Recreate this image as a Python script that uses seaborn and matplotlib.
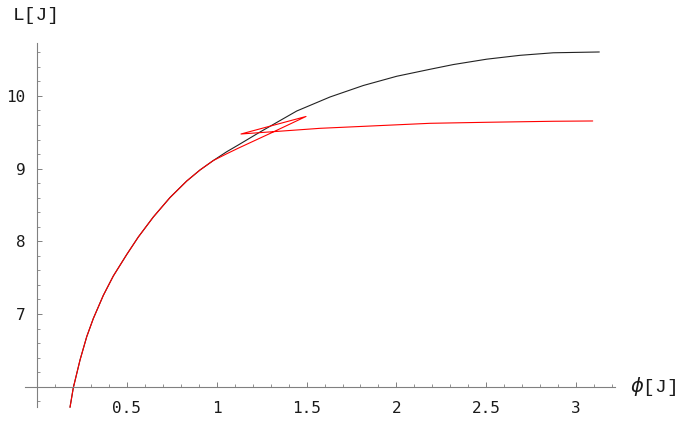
import numpy as np
import pandas as pd
import matplotlib
matplotlib.use("Agg")
import matplotlib.pyplot as plt
from matplotlib.ticker import FixedLocator, FixedFormatter
import seaborn as sns

# ---- data ----
phi_black = [0.1836, 0.2020, 0.2393, 0.2766, 0.3133, 0.3689, 0.4246, 0.4992, 0.5637,
             0.6472, 0.7401, 0.8331, 0.9071, 0.9811, 1.0557, 1.1202, 1.2410, 1.4452,
             1.6305, 1.8158, 2.0017, 2.1870, 2.3166, 2.5025, 2.6878, 2.8731, 3.1291]
L_black = [5.717, 5.986, 6.367, 6.688, 6.938, 7.256, 7.523, 7.818, 8.059,
           8.334, 8.602, 8.829, 8.981, 9.111, 9.232, 9.325, 9.503, 9.792,
           9.985, 10.143, 10.270, 10.366, 10.431, 10.505, 10.558, 10.593, 10.604]

phi_red = [0.1836, 0.2020, 0.2393, 0.2766, 0.3133, 0.3689, 0.4246, 0.4992, 0.5637,
           0.6472, 0.7401, 0.8331, 0.9071, 0.9811, 1.0557, 1.1202, 1.2966, 1.4970,
           1.1352, 1.5748, 2.1870, 2.5025, 2.8731, 3.0924]
L_red = [5.717, 5.986, 6.367, 6.688, 6.938, 7.256, 7.523, 7.818, 8.059,
         8.334, 8.602, 8.829, 8.981, 9.111, 9.204, 9.281, 9.483, 9.717,
         9.476, 9.554, 9.623, 9.637, 9.651, 9.655]

x_major = [0.5, 1, 1.5, 2, 2.5, 3]
x_major_labels = ["0.5", "1", "1.5", "2", "2.5", "3"]
y_major = [7, 8, 9, 10]
y_major_labels = ["7", "8", "9", "10"]

x_label = r"$\phi$[J]"
y_label = "L[J]"

# ---- plotting ----
sns.set_style("ticks")
plt.rcParams["font.family"] = ["DejaVu Sans Mono", "DejaVu Sans"]
plt.rcParams["mathtext.fontset"] = "dejavusans"

fig = plt.figure(figsize=(6.85, 4.24), dpi=100)
ax = fig.add_axes([0, 0, 1, 1])

df_black = pd.DataFrame({"phi": phi_black, "L": L_black})
df_red = pd.DataFrame({"phi": phi_red, "L": L_red})

sns.lineplot(data=df_black, x="phi", y="L", sort=False, estimator=None,
             color="#222222", linewidth=0.8, ax=ax)
sns.lineplot(data=df_red, x="phi", y="L", sort=False, estimator=None,
             color="#ff0000", linewidth=0.8, ax=ax)

ax.set_xlim(-0.206, 3.606)
ax.set_ylim(5.487, 11.319)
ax.set_xlabel("")
ax.set_ylabel("")

axis_col = "#808080"
for s in ["top", "right"]:
    ax.spines[s].set_visible(False)
ax.spines["left"].set_position(("data", 0))
ax.spines["bottom"].set_position(("data", 6))
ax.spines["left"].set_bounds(5.72, 10.73)
ax.spines["bottom"].set_bounds(-0.067, 3.216)
for s in ["left", "bottom"]:
    ax.spines[s].set_color(axis_col)
    ax.spines[s].set_linewidth(0.8)

ax.xaxis.set_major_locator(FixedLocator(x_major))
ax.xaxis.set_major_formatter(FixedFormatter(x_major_labels))
ax.yaxis.set_major_locator(FixedLocator(y_major))
ax.yaxis.set_major_formatter(FixedFormatter(y_major_labels))
x_minor = [round(0.1 * i, 1) for i in range(1, 33) if i % 5 != 0]
y_minor = [round(5.8 + 0.2 * i, 1) for i in range(0, 25)]
y_minor = [v for v in y_minor if abs(v - round(v)) > 1e-6]
ax.xaxis.set_minor_locator(FixedLocator(x_minor))
ax.yaxis.set_minor_locator(FixedLocator(y_minor))

ax.tick_params(axis="both", which="both", bottom=True, left=True,
               top=False, right=False)
ax.tick_params(axis="x", which="major", direction="in", length=3.4, width=0.7,
               color=axis_col, pad=10, labelsize=11.5, labelcolor="#1a1a1a")
ax.tick_params(axis="x", which="minor", direction="in", length=2.0, width=0.6,
               color=axis_col)
ax.tick_params(axis="y", which="major", direction="in", length=3.4, width=0.7,
               color=axis_col, pad=8.5, labelsize=11.5, labelcolor="#1a1a1a")
ax.tick_params(axis="y", which="minor", direction="in", length=2.0, width=0.6,
               color=axis_col)

ax.text(-0.134, 11.099, y_label, ha="left", va="center", fontsize=14,
        family=["Liberation Mono", "DejaVu Sans"], color="#1a1a1a")
ax.text(3.30, 6.0, x_label, ha="left", va="center", fontsize=14,
        family=["Liberation Mono", "DejaVu Sans"], color="#1a1a1a")

ax.set_facecolor("white")
fig.patch.set_facecolor("white")
fig.savefig("out.png", dpi=100)
